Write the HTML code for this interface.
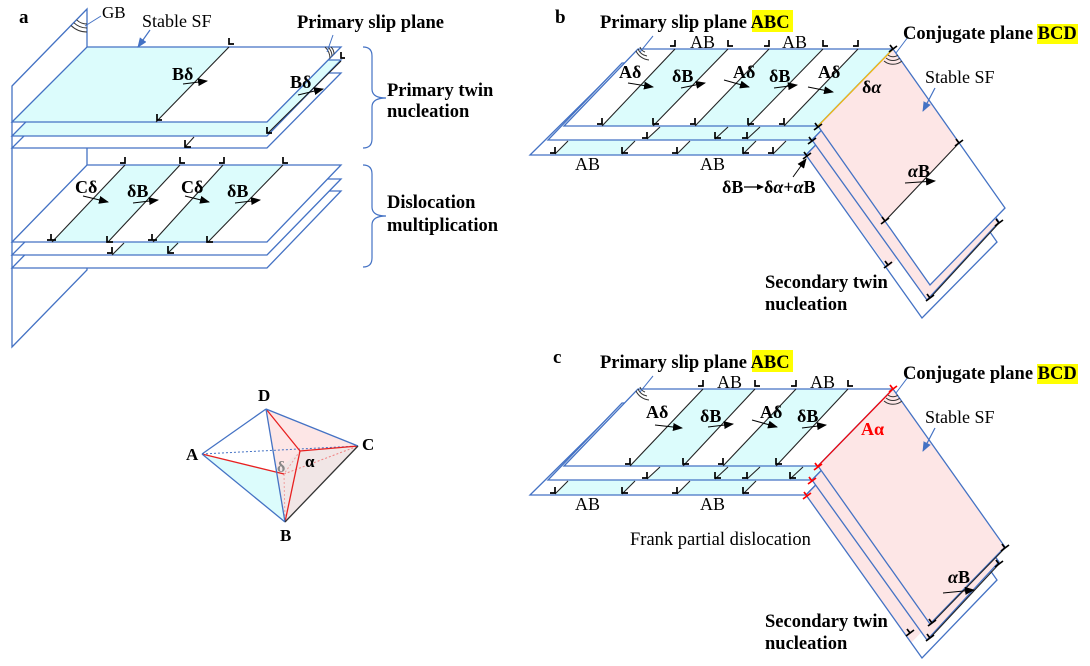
<!DOCTYPE html>
<html><head><meta charset="utf-8">
<style>
html,body{margin:0;padding:0;background:#fff;}
svg{display:block;}
text{font-family:"Liberation Serif",serif;fill:#000;}
.b{font-weight:bold;font-size:18.5px;}
.r{font-size:18px;}
</style></head>
<body>
<svg width="1090" height="666" viewBox="0 0 1090 666" xmlns="http://www.w3.org/2000/svg">
<defs>
<marker id="ah" markerWidth="10" markerHeight="8" refX="9" refY="4" orient="auto" markerUnits="userSpaceOnUse"><path d="M0,0 L10,4 L0,8 z" fill="#000"/></marker>
<marker id="sh" markerWidth="7" markerHeight="6" refX="6" refY="3" orient="auto" markerUnits="userSpaceOnUse"><path d="M0,0 L7,3 L0,6 z" fill="#000"/></marker>
<marker id="bh" markerWidth="10" markerHeight="8" refX="9" refY="4" orient="auto" markerUnits="userSpaceOnUse"><path d="M0,0 L10,4 L0,8 z" fill="#4472c4"/></marker>
</defs>

<!-- ================= PANEL A ================= -->
<polygon points="12,86 87,9 87,270 12,347" fill="#fff" stroke="#4472c4" stroke-width="1.3"/>

<!-- upper group -->
<polygon points="87,73 341,73 267,148 12,148" fill="#fff"/>
<polygon points="87,73 341,73 267,148 12,148" fill="none" stroke="#4472c4" stroke-width="1.3"/>
<polygon points="87,60 341,60 267,136 12,136" fill="#dcfcfc"/>
<polygon points="87,60 341,60 267,136 12,136" fill="none" stroke="#4472c4" stroke-width="1.3"/>
<polygon points="87,47 341,47 267,122 12,122" fill="#fff"/>
<polygon points="87,47 229,47 156,122 12,122" fill="#dcfcfc"/>
<polygon points="87,47 341,47 267,122 12,122" fill="none" stroke="#4472c4" stroke-width="1.3"/>

<g stroke="#222" stroke-width="1.1" fill="none">
<line x1="229" y1="47" x2="156" y2="122"/>
<line x1="341" y1="61" x2="268" y2="133"/>
<line x1="194" y1="137" x2="185" y2="147"/>
</g>
<g stroke="#000" stroke-width="1.7" fill="none">
<path d="M229 38v6h5"/>
<path d="M157 114v6h5"/>
<path d="M341 52v6h4"/>
<path d="M267 127v6h5"/>
<path d="M185 140v7h6"/>
</g>
<g stroke="#333" stroke-width="1" fill="none">
<path d="M87 24 A15 15 0 0 1 76.6 19.8"/>
<path d="M87 28 A19 19 0 0 1 73.8 22.7"/>
<path d="M87 32 A23 23 0 0 1 71 25.5"/>
<path d="M331 47 A10 10 0 0 1 334 54.2"/>
<path d="M328 47 A13 13 0 0 1 332 56.4"/>
<path d="M325 47 A16 16 0 0 1 330 58.6"/>
</g>
<line x1="101" y1="16" x2="85" y2="26" stroke="#4472c4" stroke-width="1"/>
<line x1="333" y1="35" x2="327" y2="52" stroke="#4472c4" stroke-width="1"/>
<line x1="150" y1="30" x2="138" y2="47" stroke="#4472c4" stroke-width="1.2" marker-end="url(#bh)"/>

<!-- lower group -->
<polygon points="87,191 341,191 267,268 12,268" fill="#fff" stroke="#4472c4" stroke-width="1.3"/>
<polygon points="87,179 341,179 267,255 12,255" fill="#fff"/>
<polygon points="112,255 168,255 244,179 188,179" fill="#dcfcfc"/>
<polygon points="87,179 341,179 267,255 12,255" fill="none" stroke="#4472c4" stroke-width="1.3"/>
<polygon points="87,165 341,165 267,242 12,242" fill="#fff"/>
<polygon points="125,165 180,165 108,242 52,242" fill="#dcfcfc"/>
<polygon points="223,165 283,165 208,242 153,242" fill="#dcfcfc"/>
<polygon points="87,165 341,165 267,242 12,242" fill="none" stroke="#4472c4" stroke-width="1.3"/>
<g stroke="#222" stroke-width="1.1" fill="none">
<line x1="125" y1="165" x2="52" y2="242"/>
<line x1="180" y1="165" x2="108" y2="242"/>
<line x1="223" y1="165" x2="153" y2="242"/>
<line x1="283" y1="165" x2="208" y2="242"/>
<line x1="124" y1="243" x2="112" y2="255"/>
<line x1="178" y1="243" x2="168" y2="253"/>
</g>
<g stroke="#000" stroke-width="1.7" fill="none">
<path d="M120 163h5v-6"/><path d="M180 157v6h5"/><path d="M219 163h5v-6"/><path d="M283 157v6h5"/>
<path d="M47 240h9M51 240v-6"/><path d="M107 236v6h6"/><path d="M148 240h9M152 240v-6"/><path d="M207 236v6h6"/>
<path d="M107 253h5v-6"/><path d="M168 246v7h6"/>
</g>

<g stroke="#000" stroke-width="1" fill="none" marker-end="url(#ah)">
<line x1="183" y1="84" x2="207" y2="81"/>
<line x1="298" y1="95" x2="323" y2="89"/>
<line x1="83" y1="196" x2="108" y2="202"/>
<line x1="133" y1="203" x2="158" y2="200"/>
<line x1="185" y1="196" x2="209" y2="202"/>
<line x1="235" y1="203" x2="260" y2="200"/>
</g>

<g stroke="#4472c4" stroke-width="1.2" fill="none">
<path d="M363 47 Q372 47 372 56 L372 89 Q372 98 386 98 Q372 98 372 107 L372 139 Q372 148 363 148"/>
<path d="M363 165 Q372 165 372 174 L372 207 Q372 216 386 216 Q372 216 372 225 L372 258 Q372 267 363 267"/>
</g>

<text x="19" y="23" class="b" style="font-size:19px">a</text>
<text x="102" y="18" class="r" style="font-size:17px">GB</text>
<text x="142" y="27" class="r">Stable SF</text>
<text x="297" y="28" class="b">Primary slip plane</text>
<text x="387" y="96" class="b">Primary twin</text>
<text x="387" y="117" class="b">nucleation</text>
<text x="387" y="208" class="b">Dislocation</text>
<text x="387" y="231" class="b">multiplication</text>
<text x="172" y="80" class="b" style="font-size:18px">Bδ</text>
<text x="290" y="88" class="b" style="font-size:18px">Bδ</text>
<text x="75" y="193" class="b" style="font-size:18px">Cδ</text>
<text x="127" y="197" class="b" style="font-size:18px">δB</text>
<text x="181" y="193" class="b" style="font-size:18px">Cδ</text>
<text x="227" y="197" class="b" style="font-size:18px">δB</text>

<!-- tetrahedron -->
<polygon points="266,409 358,446 285,522" fill="#f1e6e6"/>
<polygon points="266,409 358,446 300,451 278,470" fill="#fde6e6"/>
<polygon points="202,454 276,472 285,522" fill="#dcfcfc"/>
<g fill="none">
<line x1="202" y1="454" x2="358" y2="446" stroke="#4472c4" stroke-width="1" stroke-dasharray="2,2"/>
<line x1="284" y1="474" x2="358" y2="446" stroke="#f08080" stroke-width="1" stroke-dasharray="2,2"/>
<line x1="284" y1="474" x2="285" y2="522" stroke="#f0a0a0" stroke-width="1" stroke-dasharray="2,2"/>
<line x1="300" y1="451" x2="284" y2="474" stroke="#f0a0a0" stroke-width="1" stroke-dasharray="2,2"/>
<line x1="202" y1="454" x2="284" y2="474" stroke="#e82020" stroke-width="1.3"/>
<line x1="266" y1="409" x2="300" y2="451" stroke="#e82020" stroke-width="1.3"/>
<line x1="300" y1="451" x2="358" y2="446" stroke="#e82020" stroke-width="1.3"/>
<line x1="300" y1="451" x2="285" y2="522" stroke="#e82020" stroke-width="1.3"/>
<line x1="202" y1="454" x2="266" y2="409" stroke="#4472c4" stroke-width="1.3"/>
<line x1="266" y1="409" x2="358" y2="446" stroke="#4472c4" stroke-width="1.3"/>
<line x1="202" y1="454" x2="285" y2="522" stroke="#4472c4" stroke-width="1.3"/>
<line x1="266" y1="409" x2="285" y2="522" stroke="#4472c4" stroke-width="1.3"/>
<line x1="358" y1="446" x2="285" y2="522" stroke="#333" stroke-width="1.3"/>
</g>
<text x="258" y="401" class="b" style="font-size:17px">D</text>
<text x="186" y="460" class="b" style="font-size:17px">A</text>
<text x="362" y="450" class="b" style="font-size:17px">C</text>
<text x="280" y="541" class="b" style="font-size:17px">B</text>
<text x="277" y="472" style="font-size:16px;font-weight:bold;fill:#888">δ</text>
<text x="305" y="467" style="font-size:17px;font-weight:bold">α</text>

<!-- ================= PANEL B ================= -->
<g>
<polygon points="530,155 806,155 882,77 609,77" fill="#fff"/>
<polygon points="555,155 622,155 697,77 630,77" fill="#dcfcfc"/>
<polygon points="677,155 743,155 818,77 752,77" fill="#dcfcfc"/>
<polygon points="773,155 806,155 882,77 848,77" fill="#dcfcfc"/>
<polygon points="530,155 806,155 882,77 609,77" fill="none" stroke="#4472c4" stroke-width="1.3"/>
<polygon points="548,140 812,140 887,63 622,63" fill="#fff"/>
<polygon points="647,140 812,140 887,63 722,63" fill="#dcfcfc"/>
<polygon points="548,140 812,140 887,63 622,63" fill="none" stroke="#4472c4" stroke-width="1.3"/>
<polygon points="806,155 922,318 997,242 882,77" fill="#fff"/>
<polygon points="806,155 888,268 963,190 882,77" fill="#fde6e6"/>
<polygon points="806,155 922,318 997,242 882,77" fill="none" stroke="#4472c4" stroke-width="1.3"/>
<polygon points="812,140 927,300 999,222 887,63" fill="#fde6e6" stroke="#4472c4" stroke-width="1.3"/>
<polygon points="638,49 893,49 818,126 564,126" fill="#fff"/>
<polygon points="675,49 728,49 653,126 602,126" fill="#dcfcfc"/>
<polygon points="769,49 823,49 748,126 695,126" fill="#dcfcfc"/>
<polygon points="858,49 893,49 818,126 784,126" fill="#dcfcfc"/>
<polygon points="638,49 893,49 818,126 564,126" fill="none" stroke="#4472c4" stroke-width="1.3"/>
<polygon points="893,49 1005,208 930,285 818,126" fill="#fff"/>
<polygon points="893,49 959,143 885,221 818,126" fill="#fde6e6"/>
<polygon points="893,49 1005,208 930,285 818,126" fill="none" stroke="#4472c4" stroke-width="1.3"/>
<line x1="893" y1="49" x2="818" y2="126" stroke="#ffc000" stroke-width="1.2"/>

<g stroke="#222" stroke-width="1.1" fill="none">
<line x1="675" y1="49" x2="602" y2="126"/>
<line x1="728" y1="49" x2="653" y2="126"/>
<line x1="769" y1="49" x2="695" y2="126"/>
<line x1="823" y1="49" x2="748" y2="126"/>
<line x1="858" y1="49" x2="784" y2="126"/>
<line x1="660" y1="127" x2="647" y2="139"/>
<line x1="728" y1="127" x2="715" y2="139"/>
<line x1="760" y1="127" x2="747" y2="139"/>
<line x1="568" y1="141" x2="555" y2="154"/>
<line x1="635" y1="141" x2="622" y2="154"/>
<line x1="690" y1="141" x2="677" y2="154"/>
<line x1="756" y1="141" x2="743" y2="154"/>
<line x1="786" y1="141" x2="773" y2="154"/>
<line x1="959" y1="143" x2="885" y2="221"/>
<line x1="999" y1="223" x2="930" y2="298"/>
</g>
<g stroke="#000" stroke-width="1.7" fill="none">
<path d="M670 46h5v-6"/><path d="M728 40v6h5"/><path d="M764 46h5v-6"/><path d="M823 40v6h5"/><path d="M853 46h5v-6"/>
<path d="M597 124h5v-6"/><path d="M653 118v6h6"/><path d="M690 124h5v-6"/><path d="M748 118v6h6"/><path d="M779 124h5v-6"/>
<path d="M642 138h5v-6"/><path d="M715 132v6h6"/><path d="M742 138h5v-6"/>
<path d="M550 153h5v-6"/><path d="M622 147v6h6"/><path d="M672 153h5v-6"/><path d="M743 147v6h6"/><path d="M768 153h5v-6"/>
<path d="M814 130l8-6M818 127l-3-4"/><path d="M808 144l8-6M812 141l-3-4"/><path d="M803 159l8-6M807 156l-3-4"/>
<path d="M955 146l8-6M959 143l-3-4"/><path d="M881 224l8-6M885 221l-3-4"/>
<path d="M995 226l8-6M999 223l-3-4"/><path d="M926 301l8-6M930 298l-3-4"/><path d="M884 268l8-6M888 265l-3-4"/>
<path d="M889 52l8-6M893 49l-3-4"/>
</g>
<g stroke="#333" stroke-width="1" fill="none">
<path d="M645 52 A8 8 0 0 1 640 47"/>
<path d="M647 56 A12 12 0 0 1 638 49"/>
<path d="M649 60 A16 16 0 0 1 636 51"/>
<path d="M888 55 A8 8 0 0 0 898 55"/>
<path d="M886 58 A11 11 0 0 0 900 58"/>
<path d="M884 61 A14 14 0 0 0 902 61"/>
</g>
<line x1="653" y1="36" x2="640" y2="52" stroke="#4472c4" stroke-width="1"/>
<line x1="896" y1="53" x2="908" y2="37" stroke="#4472c4" stroke-width="1"/>
<line x1="935" y1="88" x2="923" y2="111" stroke="#4472c4" stroke-width="1.2" marker-end="url(#bh)"/>
<g stroke="#000" stroke-width="1" fill="none" marker-end="url(#ah)">
<line x1="628" y1="83" x2="653" y2="87"/>
<line x1="681" y1="88" x2="705" y2="83"/>
<line x1="724" y1="80" x2="749" y2="87"/>
<line x1="774" y1="88" x2="797" y2="85"/>
<line x1="808" y1="87" x2="833" y2="92"/>
<line x1="905" y1="183" x2="935" y2="181"/>
<line x1="793" y1="177" x2="806" y2="159"/>
</g>
<line x1="744" y1="187" x2="763" y2="187" stroke="#000" stroke-width="1.2" marker-end="url(#sh)"/>
</g>

<rect x="752" y="10" width="41" height="22" fill="#ffff00"/>
<text x="555" y="23" class="b" style="font-size:19px">b</text>
<text x="600" y="28" class="b">Primary slip plane ABC</text>
<rect x="1037" y="24" width="41" height="20" fill="#ffff00"/>
<text x="903" y="39" class="b">Conjugate plane BCD</text>
<text x="925" y="83" class="r">Stable SF</text>
<text x="690" y="48" class="r">AB</text>
<text x="782" y="48" class="r">AB</text>
<text x="575" y="170" class="r">AB</text>
<text x="700" y="170" class="r">AB</text>
<text x="619" y="78" class="b" style="font-size:18px">Aδ</text>
<text x="672" y="82" class="b" style="font-size:18px">δB</text>
<text x="733" y="78" class="b" style="font-size:18px">Aδ</text>
<text x="769" y="82" class="b" style="font-size:18px">δB</text>
<text x="818" y="78" class="b" style="font-size:18px">Aδ</text>
<text x="862" y="93" class="b" style="font-size:18px">δ<tspan font-style="italic">α</tspan></text>
<text x="908" y="177" class="b" style="font-size:18px"><tspan font-style="italic">α</tspan>B</text>
<text x="722" y="193" class="b" style="font-size:18px">δB</text>
<text x="764" y="193" class="b" style="font-size:18px">δ<tspan font-style="italic">α</tspan>+<tspan font-style="italic">α</tspan>B</text>
<text x="765" y="288" class="b">Secondary twin</text>
<text x="765" y="310" class="b">nucleation</text>

<!-- ================= PANEL C ================= -->
<g transform="translate(0,340)">
<polygon points="530,155 806,155 882,77 609,77" fill="#fff"/>
<polygon points="555,155 622,155 697,77 630,77" fill="#dcfcfc"/>
<polygon points="677,155 743,155 818,77 752,77" fill="#dcfcfc"/>
<polygon points="530,155 806,155 882,77 609,77" fill="none" stroke="#4472c4" stroke-width="1.3"/>
<polygon points="548,140 812,140 887,63 622,63" fill="#fff"/>
<polygon points="647,140 812,140 887,63 722,63" fill="#dcfcfc"/>
<polygon points="548,140 812,140 887,63 622,63" fill="none" stroke="#4472c4" stroke-width="1.3"/>
<polygon points="806,155 922,318 997,240 882,77" fill="#fff"/>
<polygon points="806,155 911,303 986,225 882,77" fill="#fde6e6"/>
<polygon points="806,155 922,318 997,240 882,77" fill="none" stroke="#4472c4" stroke-width="1.3"/>
<polygon points="812,140 927,300 999,222 887,63" fill="#fde6e6" stroke="#4472c4" stroke-width="1.3"/>
<polygon points="638,49 893,49 818,126 564,126" fill="#fff"/>
<polygon points="703,49 755,49 683,126 630,126" fill="#dcfcfc"/>
<polygon points="796,49 848,49 776,126 723,126" fill="#dcfcfc"/>
<polygon points="638,49 893,49 818,126 564,126" fill="none" stroke="#4472c4" stroke-width="1.3"/>
<polygon points="893,49 1005,207 930,284 818,126" fill="#fde6e6" stroke="#4472c4" stroke-width="1.3"/>
<line x1="893" y1="49" x2="818" y2="126" stroke="#ff0000" stroke-width="1.2"/>

<g stroke="#222" stroke-width="1.1" fill="none">
<line x1="703" y1="49" x2="630" y2="126"/>
<line x1="755" y1="49" x2="683" y2="126"/>
<line x1="796" y1="49" x2="723" y2="126"/>
<line x1="848" y1="49" x2="776" y2="126"/>
<line x1="660" y1="127" x2="647" y2="139"/>
<line x1="728" y1="127" x2="715" y2="139"/>
<line x1="760" y1="127" x2="747" y2="139"/>
<line x1="803" y1="127" x2="790" y2="139"/>
<line x1="568" y1="141" x2="555" y2="154"/>
<line x1="635" y1="141" x2="622" y2="154"/>
<line x1="690" y1="141" x2="677" y2="154"/>
<line x1="756" y1="141" x2="743" y2="154"/>
<line x1="1005" y1="208" x2="932" y2="283"/>
<line x1="999" y1="224" x2="930" y2="298"/>
</g>
<g stroke="#000" stroke-width="1.7" fill="none">
<path d="M698 46h5v-6"/><path d="M755 40v6h5"/><path d="M791 46h5v-6"/><path d="M848 40v6h5"/>
<path d="M625 124h5v-6"/><path d="M683 118v6h6"/><path d="M718 124h5v-6"/><path d="M776 118v6h6"/>
<path d="M642 138h5v-6"/><path d="M715 132v6h6"/><path d="M742 138h5v-6"/><path d="M790 132v6h6"/>
<path d="M550 153h5v-6"/><path d="M622 147v6h6"/><path d="M672 153h5v-6"/><path d="M743 147v6h6"/>
<path d="M1001 211l8-6M1005 208l-3-4"/><path d="M995 227l8-6M999 224l-3-4"/>
<path d="M928 286l8-6M932 283l-3-4"/><path d="M926 301l8-6M930 298l-3-4"/><path d="M906 296l8-6M910 293l-3-4"/>
</g>
<g stroke="#ff0000" stroke-width="1.7" fill="none">
<path d="M814 130l8-6M818 127l-3-4"/><path d="M808 144l8-6M812 141l-3-4"/><path d="M803 159l8-6M807 156l-3-4"/>
<path d="M889 52l8-6M893 49l-3-4"/>
</g>
<g stroke="#333" stroke-width="1" fill="none">
<path d="M645 52 A8 8 0 0 1 640 47"/>
<path d="M647 56 A12 12 0 0 1 638 49"/>
<path d="M649 60 A16 16 0 0 1 636 51"/>
<path d="M888 55 A8 8 0 0 0 898 55"/>
<path d="M886 58 A11 11 0 0 0 900 58"/>
<path d="M884 61 A14 14 0 0 0 902 61"/>
</g>
<line x1="653" y1="36" x2="640" y2="52" stroke="#4472c4" stroke-width="1"/>
<line x1="896" y1="53" x2="908" y2="37" stroke="#4472c4" stroke-width="1"/>
<line x1="935" y1="88" x2="923" y2="111" stroke="#4472c4" stroke-width="1.2" marker-end="url(#bh)"/>
<g stroke="#000" stroke-width="1" fill="none" marker-end="url(#ah)">
<line x1="655" y1="85" x2="682" y2="88"/>
<line x1="708" y1="87" x2="733" y2="84"/>
<line x1="752" y1="80" x2="777" y2="87"/>
<line x1="802" y1="88" x2="826" y2="85"/>
<line x1="943" y1="253" x2="974" y2="250"/>
</g>
</g>

<rect x="752" y="350" width="41" height="22" fill="#ffff00"/>
<text x="553" y="363" class="b" style="font-size:19px">c</text>
<text x="600" y="368" class="b">Primary slip plane ABC</text>
<rect x="1037" y="364" width="41" height="20" fill="#ffff00"/>
<text x="903" y="379" class="b">Conjugate plane BCD</text>
<text x="925" y="423" class="r">Stable SF</text>
<text x="717" y="388" class="r">AB</text>
<text x="810" y="388" class="r">AB</text>
<text x="575" y="510" class="r">AB</text>
<text x="700" y="510" class="r">AB</text>
<text x="646" y="418" class="b" style="font-size:18px">Aδ</text>
<text x="700" y="422" class="b" style="font-size:18px">δB</text>
<text x="760" y="418" class="b" style="font-size:18px">Aδ</text>
<text x="797" y="422" class="b" style="font-size:18px">δB</text>
<text x="861" y="435" class="b" style="font-size:18px;fill:#ff0000">Aα</text>
<text x="948" y="583" class="b" style="font-size:18px"><tspan font-style="italic">α</tspan>B</text>
<text x="630" y="545" class="r" style="font-size:18.5px">Frank partial dislocation</text>
<text x="765" y="627" class="b">Secondary twin</text>
<text x="765" y="649" class="b">nucleation</text>
</svg>
</body></html>
